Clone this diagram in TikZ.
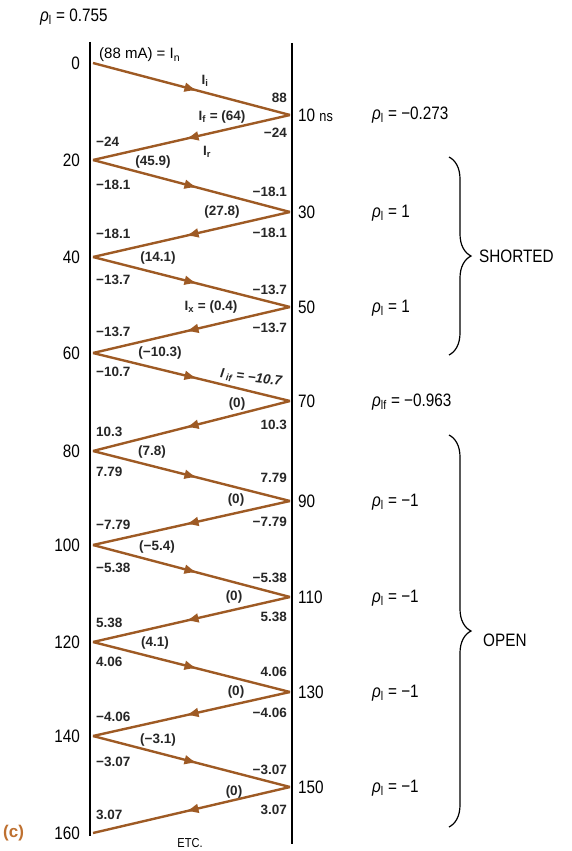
\documentclass[tikz,border=0pt]{standalone}
\usepackage{fontspec}
\setmainfont{Liberation Sans}
\newfontfamily\cond[FakeStretch=0.85]{Liberation Sans}
\usetikzlibrary{arrows.meta,decorations.markings,decorations.pathreplacing}
\definecolor{wavec}{RGB}{158,90,36}
\definecolor{cc}{RGB}{190,112,48}
\newcommand{\sbs}[1]{\textsubscript{#1}}
\newcommand{\rh}{\textit{ρ}}
\begin{document}
\begin{tikzpicture}[x=1pt,y=-1pt,
  wave/.style={color=wavec, line width=2.4pt, postaction={decorate},
    decoration={markings, mark=at position 0.53 with {\arrow{Latex[length=13pt,width=10pt]}}}},
  rail/.style={draw=black, line width=2.6pt},
  lnum/.style={inner sep=0pt, font=\bfseries\fontsize{13.5}{14}\selectfont, text=black!85},
  tlab/.style={inner sep=0pt, font=\cond\fontsize{18}{18}\selectfont},
  rlab/.style={inner sep=0pt, font=\cond\fontsize{18}{18}\selectfont},
  brc/.style={decorate, decoration={brace, amplitude=22pt}, line width=1.2pt}
]
\useasboundingbox (0,0) rectangle (571,851);
% rails
\coordinate (Lt) at (90,42); \coordinate (Lb) at (90,836);
\coordinate (Rt) at (292,43); \coordinate (Rb) at (292,844);
\draw[rail] (Lt) -- (Lb);
\draw[rail] (Rt) -- (Rb);
% vertices
\foreach \n/\x/\y in {0/93/63, 1/290/115, 2/93/160, 3/290/212, 4/93/257, 5/290/307,
  6/93/353, 7/290/401, 8/93/451, 9/290/501, 10/93/545, 11/290/597, 12/93/642,
  13/290/692, 14/93/736, 15/290/787, 16/93/833}
  \coordinate (v\n) at (\x,\y);
\foreach \a/\b in {0/1,1/2,2/3,3/4,4/5,5/6,6/7,7/8,8/9,9/10,10/11,11/12,12/13,13/14,14/15,15/16}
  \draw[wave] (v\a) -- (v\b);
% left-side numbers
\foreach \y/\t [count=\k] in {142/−24, 185/−18.1, 234/−18.1, 280/−13.7, 332/−13.7,
  372/−10.7, 432/10.3, 472/7.79, 525/−7.79, 568/−5.38, 623/5.38, 662/4.06,
  717/−4.06, 762/−3.07, 815/3.07}
  \node[lnum, anchor=west] (nl\k) at (96,\y) {\t};
% right-side numbers
\foreach \y/\t [count=\k] in {98/88, 133/−24, 192/−18.1, 233/−18.1, 290/−13.7, 328/−13.7,
  425/10.3, 478/7.79, 522/−7.79, 578/−5.38, 617/5.38, 672/4.06, 713/−4.06,
  770/−3.07, 810/3.07}
  \node[lnum, anchor=east] (nr\k) at (287,\y) {\t};
% middle labels
\foreach \x/\y/\t [count=\k] in {153/162/(45.9), 222/212/(27.8), 158/258/(14.1),
  160/353/(−10.3), 237/404/(0), 152/452/(7.8), 236/500/(0), 157/547/(−5.4),
  234/597/(0), 155/643/(4.1), 236/692/(0), 158/740/(−3.1), 234/792/(0)}
  \node[lnum] (nm\k) at (\x,\y) {\t};
\node[lnum] (ii) at (205,81) {I\sbs{i}};
\node[lnum] (if) at (222,117) {I\sbs{f} = (64)};
\node[lnum] (ir) at (207,152) {I\sbs{r}};
\node[lnum] (ix) at (211,307) {I\sbs{x} = (0.4)};
\node[lnum, rotate=-7] (iif) at (251,378) {\itshape I\,\sbs{if} = −10.7};
\node[inner sep=0pt, anchor=west, font=\fontsize{15}{15}\selectfont] (in) at (99,55) {(88 mA) = I\sbs{n}};
\node[rlab, anchor=west] (rho0) at (40,17) {\rh\sbs{l} = 0.755};
% time labels
\foreach \y/\t [count=\k] in {63/0, 160/20, 257/40, 353/60, 451/80, 545/100, 642/120, 736/140, 833/160}
  \node[tlab, anchor=east] (tl\k) at (80,\y) {\t};
\foreach \y/\t [count=\k] in {115/10 {\fontsize{15}{15}\selectfont ns}, 212/30, 307/50, 401/70, 501/90, 597/110, 692/130, 787/150}
  \node[tlab, anchor=west] (tr\k) at (298,\y) {\t};
% rho labels
\foreach \y/\t [count=\k] in {115/−0.273, 213/1, 308/1, 502/−1, 598/−1, 693/−1, 788/−1}
  \node[rlab, anchor=west] (rh\k) at (372,\y) {\rh\sbs{l} = \t};
\node[rlab, anchor=west] (rhf) at (372,402) {\rh\sbs{lf} = −0.963};
% braces
\coordinate (bs1) at (449,157); \coordinate (bs2) at (449,355);
\coordinate (bo1) at (449,435); \coordinate (bo2) at (449,827);
\draw[brc] (bs1) -- (bs2);
\draw[brc] (bo1) -- (bo2);
\node[rlab, anchor=west] (sh) at (479,256) {SHORTED};
\node[rlab, anchor=west] (op) at (483,640) {OPEN};
% misc
\node[inner sep=0pt, anchor=west, text=cc, font=\bfseries\fontsize{17}{17}\selectfont] (cl) at (3,833) {(c)};
\node[inner sep=0pt, font=\cond\fontsize{13}{13}\selectfont] (etc) at (190,843) {ETC.};
\end{tikzpicture}
\end{document}
